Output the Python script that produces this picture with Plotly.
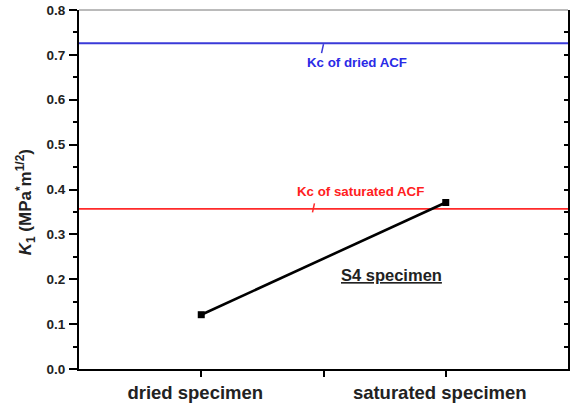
import plotly.graph_objects as go

# Fracture toughness of the S4 specimen in two conditions
categories = ["dried specimen", "saturated specimen"]
cat_pos = [1, 2]
k1_values = [0.121, 0.371]

# Critical toughness reference levels of the ACF material
kc_dried = 0.726
kc_saturated = 0.357

y_ticks = [0.0, 0.1, 0.2, 0.3, 0.4, 0.5, 0.6, 0.7, 0.8]
y_tick_text = ["0.0", "0.1", "0.2", "0.3", "0.4", "0.5", "0.6", "0.7", "0.8"]

FONT = "Liberation Sans, Arial, sans-serif"
BLUE = "#3a3ad8"
RED = "#ff2a2a"

fig = go.Figure()

# Horizontal reference lines spanning the whole axis
fig.add_trace(go.Scatter(x=[0.5, 2.5], y=[kc_dried, kc_dried], mode="lines",
                         line=dict(color=BLUE, width=2), hoverinfo="skip"))
fig.add_trace(go.Scatter(x=[0.5, 2.5], y=[kc_saturated, kc_saturated], mode="lines",
                         line=dict(color=RED, width=1.8), hoverinfo="skip"))

# Measured K1 values
fig.add_trace(go.Scatter(x=cat_pos, y=k1_values, mode="lines+markers",
                         line=dict(color="black", width=2.6),
                         marker=dict(symbol="square", size=7, color="black")))

# Mirror axis on the right with inward ticks
fig.add_trace(go.Scatter(x=[], y=[], yaxis="y2", showlegend=False))

fig.update_layout(
    width=571, height=406,
    margin=dict(l=79, r=3, t=10, b=35),
    paper_bgcolor="white", plot_bgcolor="white",
    showlegend=False,
    font=dict(family=FONT, color="black"),
    xaxis=dict(
        range=[0.5, 2.5], tickvals=[1, 1.5, 2],
        ticktext=[categories[0], "", categories[1]],
        ticks="outside", ticklen=6, tickwidth=2, tickcolor="black",
        showline=True, linewidth=2, linecolor="black",
        showgrid=False, zeroline=False,
        ticklabelshift=-6,
        tickfont=dict(family=FONT, size=18.5, color="#222", weight="bold"),
    ),
    yaxis=dict(
        range=[0, 0.8], tickvals=y_ticks, ticktext=y_tick_text,
        ticks="outside", ticklen=8, tickwidth=2, tickcolor="black",
        minor=dict(dtick=0.05, ticks="outside", ticklen=4, tickwidth=1.5, tickcolor="black"),
        showline=True, linewidth=2, linecolor="black",
        showgrid=False, zeroline=False,
        ticklabelstandoff=1,
        tickfont=dict(family=FONT, size=13.5, color="#222", weight="bold"),
    ),
    yaxis2=dict(
        overlaying="y", side="right", range=[0, 0.8], tickvals=y_ticks,
        showticklabels=False,
        ticks="inside", ticklen=4, tickwidth=2, tickcolor="black",
        minor=dict(dtick=0.05, ticks="inside", ticklen=4, tickwidth=1.5, tickcolor="black"),
        showline=True, linewidth=2.2, linecolor="black",
        showgrid=False, zeroline=False,
    ),
)

# Thin frame line along the top
fig.add_shape(type="line", xref="paper", yref="paper", x0=0, x1=1, y0=1, y1=1,
              line=dict(color="#777", width=1))

# Leader ticks tying labels to their reference lines
fig.add_shape(type="line", xref="x", yref="y", x0=1.500, x1=1.492, y0=kc_dried - 0.002,
              y1=kc_dried - 0.022, line=dict(color=BLUE, width=1.5))
fig.add_shape(type="line", xref="x", yref="y", x0=1.463, x1=1.455, y0=kc_saturated + 0.012,
              y1=kc_saturated - 0.008, line=dict(color=RED, width=1.5))

# Text labels
fig.add_annotation(x=1.637, y=0.683, xref="x", yref="y", text="<b>Kc of dried ACF</b>",
                   showarrow=False, font=dict(family=FONT, size=13.3, color="#2a2ae6"))
fig.add_annotation(x=1.651, y=0.395, xref="x", yref="y", text="<b>Kc of saturated ACF</b>",
                   showarrow=False, font=dict(family=FONT, size=13.3, color="#ff2020"))
fig.add_annotation(x=1.778, y=0.209, xref="x", yref="y", text="<b><u>S4 specimen</u></b>",
                   showarrow=False, font=dict(family=FONT, size=16.5, color="#222"))

# Y axis title
fig.add_annotation(x=-0.110, y=0.465, xref="paper", yref="paper", textangle=-90,
                   xanchor="center", yanchor="middle",
                   text="<b><i>K</i><sub>1</sub> (MPa<sup>*</sup>m<sup>1/2</sup>)</b>",
                   showarrow=False, font=dict(family=FONT, size=17, color="#222"))

fig.write_html("out.html")
